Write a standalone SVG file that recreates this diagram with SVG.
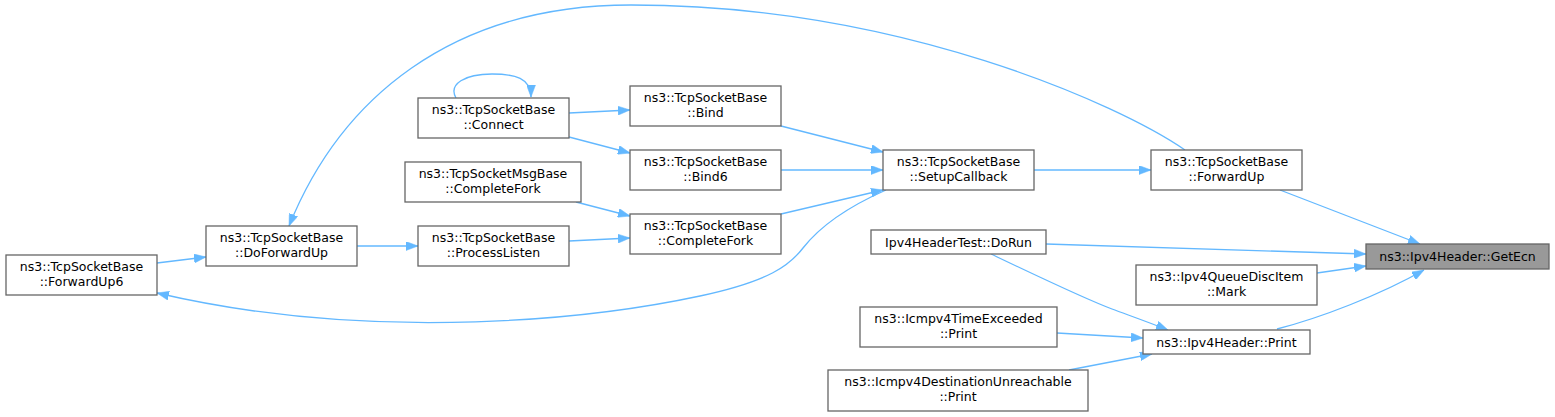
<svg xmlns="http://www.w3.org/2000/svg" width="1555" height="417" viewBox="0 0 1555 417">
<style>
.node rect{fill:#ffffff;stroke:#666666;stroke-width:1.3}
.node.hl rect{fill:#999999;stroke:#666666}
.node text{font-family:"DejaVu Sans","Liberation Sans",sans-serif;font-size:12.5px;fill:#000000;text-anchor:middle}
.edges path{fill:none;stroke:#63b8ff;stroke-width:1.3;marker-end:url(#arr)}
</style>
<defs>
<marker id="arr" viewBox="0 0 12 9" refX="12" refY="4.5" markerWidth="12" markerHeight="9" markerUnits="userSpaceOnUse" orient="auto">
<path d="M0,0 L12,4.5 L0,9 z" fill="#63b8ff" stroke="#63b8ff" stroke-width="0.5"/>
</marker>
</defs>
<rect x="0" y="0" width="1555" height="417" fill="#ffffff"/>
<g id="connectors" class="edges">
<path id="e1" d="M1280,190 L1420,244"/>
<path id="e2" d="M1046,244 L1366,254"/>
<path id="e3" d="M1317,273 L1366,266"/>
<path id="e4" d="M1277,329 C1320,318 1380,295 1424,270"/>
<path id="e5" d="M1034,170 L1151,170"/>
<path id="e6" d="M1185,150 C1120,105 900,5 631,5 C450,5 340,100 289,226"/>
<path id="e7" d="M781,126 L883,152"/>
<path id="e8" d="M781,170 L883,170"/>
<path id="e9" d="M781,214 L883,190"/>
<path id="e10" d="M886,190 C852,205 821,225 803,248 C790,265 770,281 700,296 C602,317 380,345 157,293"/>
<path id="e11" d="M569,113 L630,110"/>
<path id="e12" d="M569,137 L630,153"/>
<path id="e13" d="M456,98 C448,84 465,74 492,74 C515,74 531,78 531,97"/>
<path id="e14" d="M576,202 L630,216"/>
<path id="e15" d="M569,241 L630,238"/>
<path id="e16" d="M357,246 L418,246"/>
<path id="e17" d="M157,263 L206,257"/>
<path id="e18" d="M991,254 C1035,275 1085,299 1112,309 C1128,315 1148,322 1168,330"/>
<path id="e19" d="M1057,333 L1143,338"/>
<path id="e20" d="M1069,370 L1152,354"/>
</g>
<g id="n_getecn" class="node hl"><rect x="1366" y="244" width="183" height="25"/><text x="1457.5" y="260.5">ns3::Ipv4Header::GetEcn</text></g>
<g id="n_forwardup" class="node"><rect x="1151" y="150" width="151" height="40"/><text x="1226.5" y="166.3">ns3::TcpSocketBase</text><text x="1226.5" y="180.5">::ForwardUp</text></g>
<g id="n_setupcallback" class="node"><rect x="883" y="150" width="151" height="40"/><text x="958.5" y="166.3">ns3::TcpSocketBase</text><text x="958.5" y="180.5">::SetupCallback</text></g>
<g id="n_bind" class="node"><rect x="630" y="86" width="151" height="40"/><text x="705.5" y="102.3">ns3::TcpSocketBase</text><text x="705.5" y="116.5">::Bind</text></g>
<g id="n_bind6" class="node"><rect x="630" y="150" width="151" height="40"/><text x="705.5" y="166.3">ns3::TcpSocketBase</text><text x="705.5" y="180.5">::Bind6</text></g>
<g id="n_completefork" class="node"><rect x="630" y="214" width="151" height="40"/><text x="705.5" y="230.3">ns3::TcpSocketBase</text><text x="705.5" y="244.5">::CompleteFork</text></g>
<g id="n_connect" class="node"><rect x="418" y="98" width="151" height="40"/><text x="493.5" y="114.3">ns3::TcpSocketBase</text><text x="493.5" y="128.5">::Connect</text></g>
<g id="n_msgcompletefork" class="node"><rect x="405" y="162" width="176" height="40"/><text x="493" y="178.3">ns3::TcpSocketMsgBase</text><text x="493" y="192.5">::CompleteFork</text></g>
<g id="n_processlisten" class="node"><rect x="418" y="226" width="151" height="40"/><text x="493.5" y="242.3">ns3::TcpSocketBase</text><text x="493.5" y="256.5">::ProcessListen</text></g>
<g id="n_doforwardup" class="node"><rect x="206" y="226" width="151" height="40"/><text x="281.5" y="242.3">ns3::TcpSocketBase</text><text x="281.5" y="256.5">::DoForwardUp</text></g>
<g id="n_forwardup6" class="node"><rect x="6" y="255" width="151" height="40"/><text x="81.5" y="271.3">ns3::TcpSocketBase</text><text x="81.5" y="285.5">::ForwardUp6</text></g>
<g id="n_dorun" class="node"><rect x="871" y="230" width="175" height="24"/><text x="958.5" y="246.5">Ipv4HeaderTest::DoRun</text></g>
<g id="n_mark" class="node"><rect x="1136" y="265" width="181" height="40"/><text x="1226.5" y="281.3">ns3::Ipv4QueueDiscItem</text><text x="1226.5" y="295.5">::Mark</text></g>
<g id="n_print" class="node"><rect x="1143" y="330" width="167" height="24"/><text x="1226.5" y="346.5">ns3::Ipv4Header::Print</text></g>
<g id="n_timeexceeded" class="node"><rect x="860" y="307" width="197" height="40"/><text x="958.5" y="323.3">ns3::Icmpv4TimeExceeded</text><text x="958.5" y="337.5">::Print</text></g>
<g id="n_destunreachable" class="node"><rect x="828" y="370" width="260" height="41"/><text x="958" y="386.3">ns3::Icmpv4DestinationUnreachable</text><text x="958" y="400.5">::Print</text></g>
</svg>
